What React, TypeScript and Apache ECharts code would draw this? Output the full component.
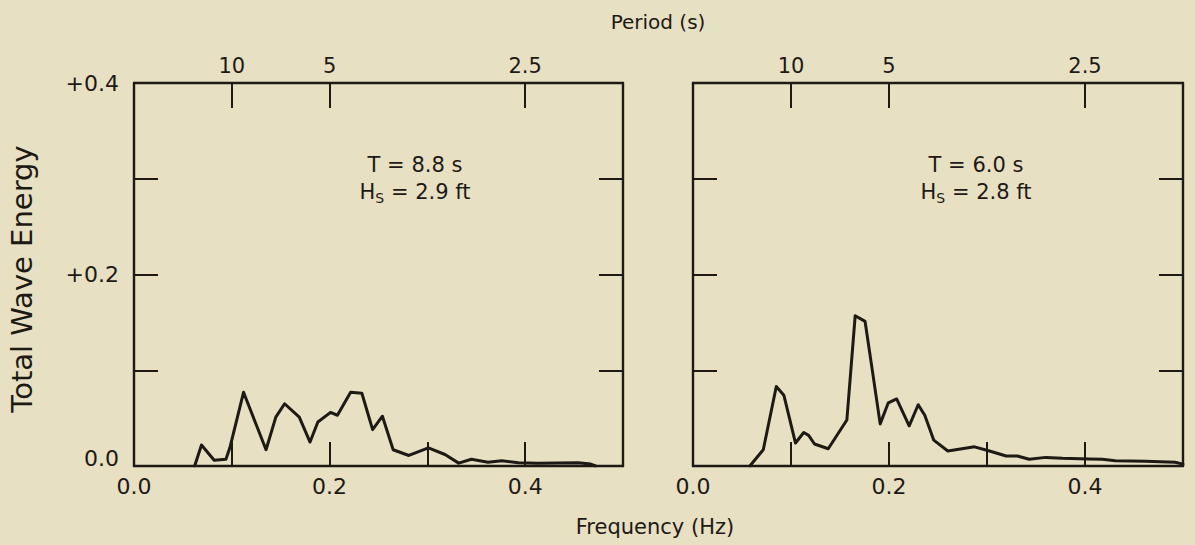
import React, { useEffect, useRef } from "react";
import * as echarts from "echarts";

// ---- data ----
const leftFreq = [0.062, 0.069, 0.082, 0.094, 0.098, 0.112, 0.135, 0.145, 0.154, 0.169, 0.18, 0.188, 0.201, 0.208, 0.2215, 0.233, 0.244, 0.254, 0.265, 0.281, 0.301, 0.318, 0.332, 0.345, 0.362, 0.376, 0.393, 0.413, 0.454, 0.467, 0.472];
const leftEnergy = [0, 0.022, 0.006, 0.007, 0.019, 0.077, 0.017, 0.051, 0.065, 0.051, 0.025, 0.046, 0.056, 0.053, 0.077, 0.076, 0.038, 0.052, 0.017, 0.011, 0.019, 0.012, 0.003, 0.007, 0.004, 0.0055, 0.0035, 0.003, 0.0035, 0.002, 0];

const rightFreq = [0.058, 0.0717, 0.085, 0.0927, 0.1046, 0.113, 0.118, 0.124, 0.138, 0.157, 0.1655, 0.1756, 0.1834, 0.191, 0.1993, 0.2078, 0.2206, 0.2298, 0.2365, 0.2457, 0.26, 0.2873, 0.3025, 0.3195, 0.331, 0.343, 0.36, 0.377, 0.404, 0.4176, 0.431, 0.4616, 0.492, 0.5];
const rightEnergy = [0, 0.017, 0.083, 0.074, 0.024, 0.035, 0.032, 0.023, 0.018, 0.048, 0.157, 0.151, 0.097, 0.044, 0.066, 0.07, 0.042, 0.064, 0.053, 0.027, 0.0157, 0.02, 0.0157, 0.0104, 0.0104, 0.007, 0.009, 0.008, 0.0073, 0.007, 0.0055, 0.0049, 0.004, 0.002];

const freqTicks = [0.1, 0.2, 0.3, 0.4];
const freqLabels = [0, 0.2, 0.4];
const periodFreqs = [0.1, 0.2, 0.4];
const periodLabels = ["10", "5", "2.5"];
const energyTicks = [0.1, 0.2, 0.3];
const energyLabels = [0, 0.2, 0.4];

const panelA = { T: "T = 8.8 s", Hs: " = 2.9 ft" };
const panelB = { T: "T = 6.0 s", Hs: " = 2.8 ft" };

const INK = "#1d1915";
const BG = "#e8e0c3";
const FONT = "DejaVu Sans";

function zip(a: number[], b: number[]) {
  return a.map((v, i) => [v, b[i]]);
}

function bottomAxis(gridIndex: number) {
  return {
    type: "value",
    gridIndex,
    position: "bottom",
    min: 0,
    max: 0.5,
    interval: 0.1,
    axisLine: { show: true, onZero: false, lineStyle: { color: INK, width: 2.4 } },
    axisTick: { show: true, inside: true, length: 24, customValues: freqTicks, lineStyle: { color: INK, width: 2 } },
    axisLabel: {
      show: true,
      customValues: freqLabels,
      formatter: (v: number) => v.toFixed(1),
      margin: 9,
      fontSize: 22,
      color: INK,
      fontFamily: FONT,
    },
    splitLine: { show: false },
  };
}

function topAxis(gridIndex: number) {
  return {
    type: "value",
    gridIndex,
    position: "top",
    min: 0,
    max: 0.5,
    interval: 0.1,
    axisLine: { show: true, onZero: false, lineStyle: { color: INK, width: 2.4 } },
    axisTick: { show: true, inside: true, length: 25, customValues: periodFreqs, lineStyle: { color: INK, width: 2 } },
    axisLabel: {
      show: true,
      customValues: periodFreqs,
      formatter: (v: number) => {
        const i = periodFreqs.findIndex((p) => Math.abs(p - v) < 1e-6);
        return i >= 0 ? periodLabels[i] : "";
      },
      margin: 7,
      fontSize: 21,
      color: INK,
      fontFamily: FONT,
    },
    splitLine: { show: false },
  };
}

function yAxis(gridIndex: number, position: "left" | "right", labels: boolean) {
  return {
    type: "value",
    gridIndex,
    position,
    min: 0,
    max: 0.4,
    interval: 0.1,
    axisLine: { show: true, onZero: false, lineStyle: { color: INK, width: 2.4 } },
    axisTick: { show: true, inside: true, length: 24, customValues: energyTicks, lineStyle: { color: INK, width: 2 } },
    axisLabel: labels
      ? {
          show: true,
          customValues: energyLabels,
          formatter: (v: number) => (v === 0 ? "{z|0.0}" : "+" + v.toFixed(1)),
          margin: 15,
          fontSize: 22,
          color: INK,
          fontFamily: FONT,
          rich: { z: { fontSize: 22, color: INK, fontFamily: FONT, padding: [0, 0, 16, 0] } },
        }
      : { show: false },
    splitLine: { show: false },
  };
}

function annotation(cx: number, t: string, hs: string) {
  return [
    {
      type: "text",
      x: cx,
      y: 165,
      style: { text: t, fontSize: 21, fontFamily: FONT, fill: INK, textAlign: "center", textVerticalAlign: "middle" },
    },
    {
      type: "text",
      x: cx,
      y: 181,
      style: {
        text: "{m|H}{s|S}{m|" + hs + "}",
        fontSize: 21,
        fontFamily: FONT,
        fill: INK,
        textAlign: "center",
        textVerticalAlign: "top",
        rich: {
          m: { fontSize: 21, fontFamily: FONT, fill: INK, verticalAlign: "top", lineHeight: 24 },
          s: { fontSize: 14, fontFamily: FONT, fill: INK, verticalAlign: "bottom", lineHeight: 16, padding: [14, 0, 0, 0] },
        },
      },
    },
  ];
}

export default function App() {
  const ref = useRef<HTMLDivElement>(null);
  useEffect(() => {
    if (!ref.current) return;
    const chart = echarts.init(ref.current, null, { renderer: "svg" });
    chart.setOption({
      animation: false,
      backgroundColor: BG,
      textStyle: { fontFamily: FONT, color: INK },
      grid: [
        { left: 134, top: 83, width: 489, height: 383 },
        { left: 693, top: 83, width: 490, height: 383 },
      ],
      xAxis: [bottomAxis(0), topAxis(0), bottomAxis(1), topAxis(1)],
      yAxis: [yAxis(0, "left", true), yAxis(0, "right", false), yAxis(1, "left", false), yAxis(1, "right", false)],
      series: [
        {
          type: "line",
          xAxisIndex: 0,
          yAxisIndex: 0,
          data: zip(leftFreq, leftEnergy),
          showSymbol: false,
          symbol: "none",
          lineStyle: { color: INK, width: 3, join: "round", cap: "round" },
          z: 3,
        },
        {
          type: "line",
          xAxisIndex: 2,
          yAxisIndex: 2,
          data: zip(rightFreq, rightEnergy),
          showSymbol: false,
          symbol: "none",
          lineStyle: { color: INK, width: 3, join: "round", cap: "round" },
          z: 3,
        },
      ],
      graphic: [
        {
          type: "text",
          x: 658,
          y: 22,
          style: { text: "Period (s)", fontSize: 20, fontFamily: FONT, fill: INK, textAlign: "center", textVerticalAlign: "middle" },
        },
        {
          type: "text",
          x: 655,
          y: 527,
          style: { text: "Frequency (Hz)", fontSize: 21, fontFamily: FONT, fill: INK, textAlign: "center", textVerticalAlign: "middle" },
        },
        {
          type: "text",
          x: 22,
          y: 279,
          rotation: Math.PI / 2,
          style: { text: "Total Wave Energy", fontSize: 29, fontFamily: FONT, fill: INK, textAlign: "center", textVerticalAlign: "middle" },
        },
        ...annotation(415, panelA.T, panelA.Hs),
        ...annotation(976, panelB.T, panelB.Hs),
      ],
    });
    return () => chart.dispose();
  }, []);
  return (
    <div
      ref={ref}
      style={{ position: "fixed", left: 0, top: 0, width: 1195, height: 545, background: BG }}
    />
  );
}
